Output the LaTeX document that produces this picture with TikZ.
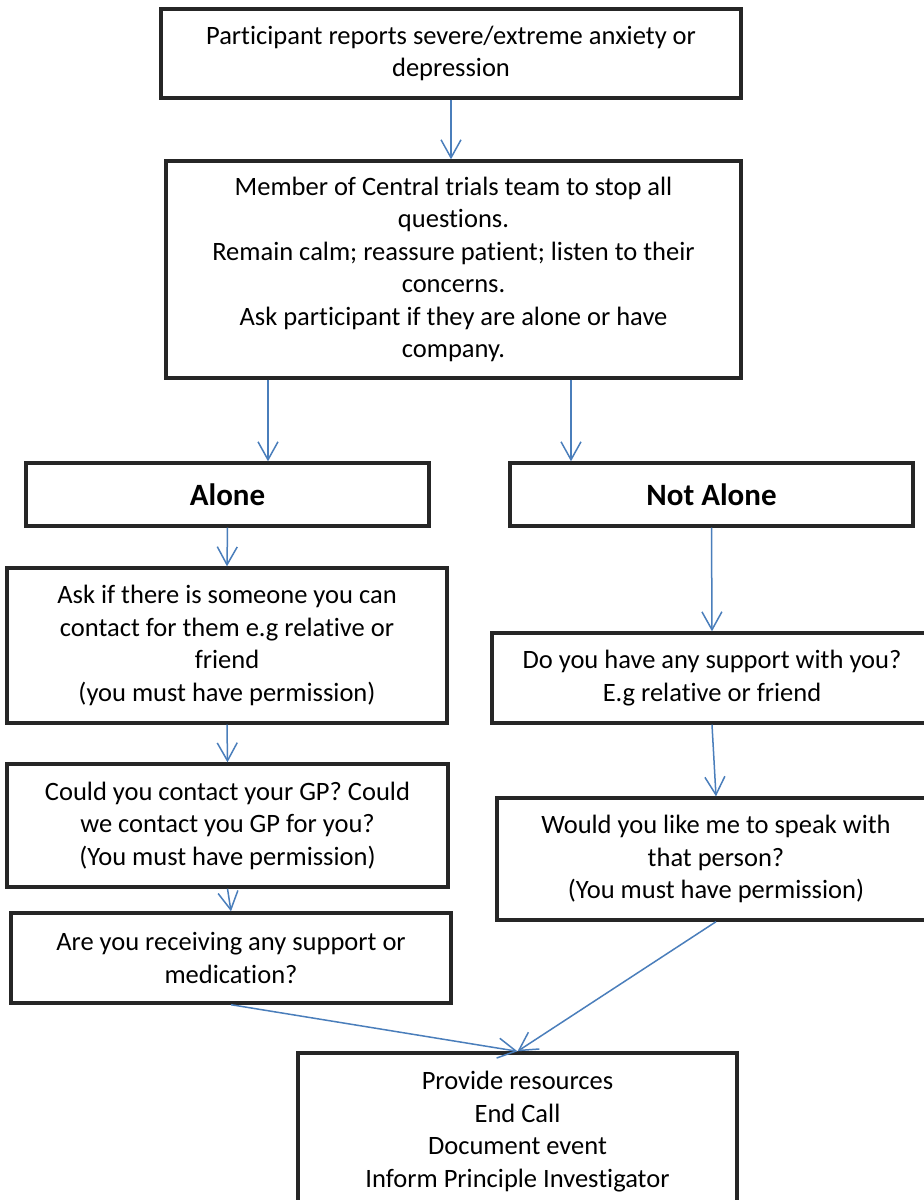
\documentclass[tikz,border=0pt]{standalone}
\usepackage{fontspec}
\setmainfont{Carlito}[Ligatures=NoCommon]
\usetikzlibrary{arrows.meta}
\definecolor{boxline}{HTML}{262626}
\definecolor{arrowblue}{HTML}{4A7EBB}
\begin{document}
\begin{tikzpicture}[x=1pt,y=-1pt,
    box/.style={draw=boxline,line width=3.4pt,fill=white,inner sep=0pt,align=center},
    textbox/.style={box,font=\fontsize{26.5}{32.5}\selectfont,
      execute at begin node={\rule{0pt}{29pt}}},
    headbox/.style={box,font=\fontsize{31}{36}\selectfont\bfseries},
    flow/.style={draw=arrowblue,line width=1.5pt,-{Straight Barb[length=18pt,width=20pt,line width=1.5pt]}}]
      \clip (0,0) rectangle (924,1200);
      \fill[white] (0,0) rectangle (924,1200);
      \draw
        (451,53.5) node[textbox,minimum width=580pt,minimum height=89pt] (report)
          {Participant reports severe/extreme anxiety or\\depression}
        (453.5,269.5) node[textbox,minimum width=575pt,minimum height=217pt] (member)
          {Member of Central trials team to stop all\\questions.\\Remain calm; reassure patient; listen to their\\concerns.\\Ask participant if they are alone or have\\company.}
        (227.5,494.5) node[headbox,minimum width=403pt,minimum height=63pt] (alone) {Alone}
        (711.5,494.5) node[headbox,minimum width=403pt,minimum height=63pt] (notalone) {Not Alone}
        (227,645.5) node[textbox,minimum width=440pt,minimum height=155pt] (ask)
          {Ask if there is someone you can\\contact for them e.g relative or\\friend\\(you must have permission)}
        (227.5,825.5) node[textbox,minimum width=441pt,minimum height=123pt] (could)
          {Could you contact your GP? Could\\we contact you GP for you?\\(You must have permission)}
        (231,958) node[textbox,minimum width=440pt,minimum height=90pt] (receiving)
          {Are you receiving any support or\\medication?}
        (712,678) node[textbox,minimum width=440pt,minimum height=90pt] (support)
          {Do you have any support with you?\\E.g relative or friend}
        (716,859) node[textbox,minimum width=438pt,minimum height=122pt] (speak)
          {Would you like me to speak with\\that person?\\(You must have permission)}
        (517.5,1131.5) node[textbox,minimum width=439pt,minimum height=157pt] (final)
          {Provide resources\\End Call\\Document event\\Inform Principle Investigator};
      \begin{scope}[flow]
        \draw (report.south) to (report.south |- member.north);
        \draw ([xshift=40.5pt]alone.north |- member.south) to ([xshift=40.5pt]alone.north);
        \draw ([xshift=-140.5pt]notalone.north |- member.south) to ([xshift=-140.5pt]notalone.north);
        \draw (alone.south) to (ask.north);
        \draw (ask.south) to (could.north);
        \draw (could.south) to (receiving.north);
        \draw (notalone.south) to (support.north);
        \draw (support.south) to (speak.north);
        \draw (receiving.south) to (final.north);
        \draw (speak.south) to (final.north);
      \end{scope}
    \end{tikzpicture}
\end{document}
